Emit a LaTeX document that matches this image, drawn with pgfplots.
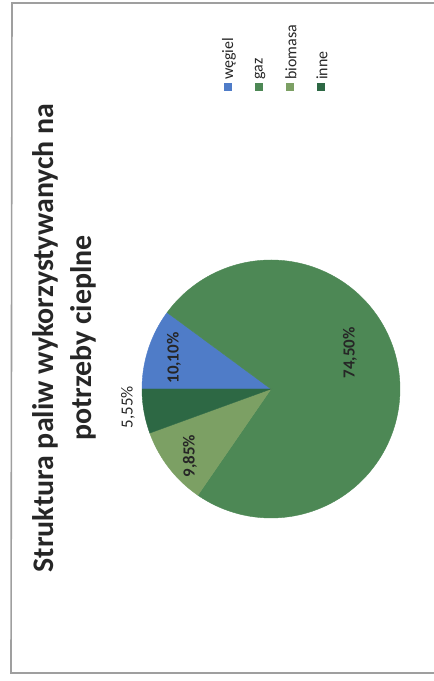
\documentclass[border=0pt]{standalone}
\usepackage{pgfplots}
\pgfplotsset{compat=1.18}
\usepackage{pgfplotstable}
\usepackage{fontspec}
\setmainfont{Carlito}
\definecolor{cWegiel}{RGB}{79,124,200}
\definecolor{cGaz}{RGB}{77,136,85}
\definecolor{cBio}{RGB}{124,160,100}
\definecolor{cInne}{RGB}{45,104,68}
\definecolor{cText}{RGB}{38,38,38}

\pgfplotstableread{
name value
wegiel 10.10
gaz 74.50
biomasa 9.85
inne 5.55
}\fueltable

\begin{document}
\begin{tikzpicture}[x=1bp,y=1bp]
% read values and compute slice angles (chart drawn rotated 90 deg, slices clockwise from the left)
\pgfplotstablegetelem{0}{value}\of\fueltable \let\vA\pgfplotsretval
\pgfplotstablegetelem{1}{value}\of\fueltable \let\vB\pgfplotsretval
\pgfplotstablegetelem{2}{value}\of\fueltable \let\vC\pgfplotsretval
\pgfplotstablegetelem{3}{value}\of\fueltable \let\vD\pgfplotsretval
\pgfmathsetmacro\aO{180}
\pgfmathsetmacro\aA{\aO-3.6*\vA}
\pgfmathsetmacro\aB{\aA-3.6*\vB}
\pgfmathsetmacro\aC{\aB-3.6*\vC}
\pgfmathsetmacro\aD{\aC-3.6*\vD}

\path[use as bounding box] (0,0) rectangle (434,681);
\draw[gray!75, line width=1.6bp] (440,678) -- (12,678) -- (11,8) -- (440,8);

\begin{axis}[
  at={(271bp,292bp)}, anchor=center,
  width=258bp, height=258bp, scale only axis,
  xmin=-1, xmax=1, ymin=-1, ymax=1,
  hide axis, clip=false,
]
\addplot[fill=cWegiel, draw=cWegiel, domain=\aA:\aO, samples=60, variable=\t] ({cos(\t)},{sin(\t)}) -- (axis cs:0,0) -- cycle;
\addplot[fill=cGaz, draw=cGaz, domain=\aB:\aA, samples=200, variable=\t] ({cos(\t)},{sin(\t)}) -- (axis cs:0,0) -- cycle;
\addplot[fill=cBio, draw=cBio, domain=\aC:\aB, samples=60, variable=\t] ({cos(\t)},{sin(\t)}) -- (axis cs:0,0) -- cycle;
\addplot[fill=cInne, draw=cInne, domain=\aD:\aC, samples=60, variable=\t] ({cos(\t)},{sin(\t)}) -- (axis cs:0,0) -- cycle;

\node[rotate=90, font=\bfseries\fontsize{17}{20}\selectfont, text=black!85] at (axis cs:-0.752,0.240) {10,10\%};
\node[rotate=90, font=\bfseries\fontsize{17}{20}\selectfont, text=black!85] at (axis cs:0.612,0.279) {74,50\%};
\node[rotate=90, font=\bfseries\fontsize{17}{20}\selectfont, text=black!85] at (axis cs:-0.628,-0.519) {9,85\%};
\node[rotate=90, font=\fontsize{17}{20}\selectfont, text=cText] at (axis cs:-1.109,-0.140) {5,55\%};
\end{axis}

% title
\node[rotate=90, align=center, text=cText, font=\bfseries\fontsize{30}{38}\selectfont] at (64,343)
  {Struktura paliw wykorzystywanych na\\potrzeby cieplne};

% legend
\foreach \xx/\cc/\tt in {228/cWegiel/węgiel, 259/cGaz/gaz, 290/cBio/biomasa, 321/cInne/inne}{
  \fill[\cc] (\xx-4,590) rectangle (\xx+4,598);
  \node[rotate=90, anchor=west, inner sep=0pt, text=cText, font=\fontsize{16}{18}\selectfont] at (\xx+1,601) {\tt};
}
\end{tikzpicture}
\end{document}
